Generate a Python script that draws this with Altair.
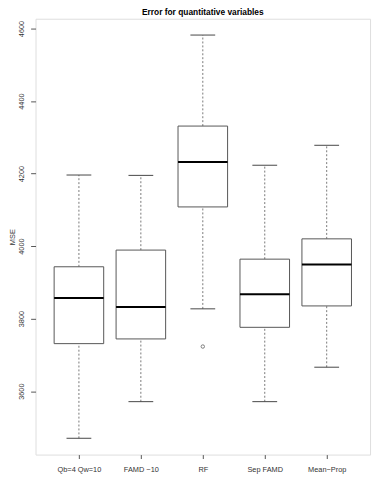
import altair as alt
import pandas as pd

methods = ["Qb=4 Qw=10", "FAMD \u221210", "RF", "Sep FAMD", "Mean\u2212Prop"]
positions = [1, 2, 3, 4, 5]
whisker_low = [3470, 3571, 3827, 3571, 3666]
q1 = [3731, 3744, 4108, 3776, 3835]
median = [3857, 3832, 4232, 3867, 3949]
q3 = [3943, 3989, 4331, 3964, 4020]
whisker_high = [4196, 4195, 4582, 4223, 4278]
outlier_pos = [3]
outlier_val = [3723]

y_ticks = [3600, 3800, 4000, 4200, 4400, 4600]

df = pd.DataFrame({
    "method": methods, "pos": positions, "lo": whisker_low, "q1": q1,
    "med": median, "q3": q3, "hi": whisker_high,
})
df_out = pd.DataFrame({"pos": outlier_pos, "val": outlier_val})

label_expr = "[" + ",".join(f"'{m}'" for m in methods) + "][datum.value - 1]"

FONT = "Liberation Sans"
xscale = alt.Scale(domain=[0.3, 5.7], nice=False, zero=False)
yscale = alt.Scale(domain=[3425, 4627], nice=False, zero=False)

xaxis = alt.Axis(values=positions, labelExpr=label_expr, title=None, grid=False,
                 domain=False, tickSize=4, tickColor="#555", labelPadding=7,
                 labelFontSize=7.5, labelFont=FONT, labelColor="#333")
yaxis = alt.Axis(values=y_ticks, format="d", title="MSE", grid=False, domain=False,
                 tickSize=5, tickColor="#555", labelAngle=270, labelAlign="center",
                 labelBaseline="bottom", labelPadding=5, labelFontSize=7.5,
                 labelFont=FONT, labelColor="#333", titleFont=FONT,
                 titleFontSize=7.5, titleFontWeight="normal", titleColor="#333",
                 titlePadding=1)

base = alt.Chart(df).transform_calculate(
    bl="datum.pos - 0.4", br="datum.pos + 0.4",
    cl="datum.pos - 0.2", cr="datum.pos + 0.2",
)

whisk_up = base.mark_rule(color="#777", strokeDash=[2, 2], strokeWidth=1).encode(
    x=alt.X("pos:Q", scale=xscale, axis=xaxis),
    y=alt.Y("q3:Q", scale=yscale, axis=yaxis),
    y2="hi:Q",
)
whisk_dn = base.mark_rule(color="#777", strokeDash=[2, 2], strokeWidth=1).encode(
    x="pos:Q", y="lo:Q", y2="q1:Q",
)
cap_up = base.mark_rule(color="#444", strokeWidth=1).encode(
    x="cl:Q", x2="cr:Q", y="hi:Q",
)
cap_dn = base.mark_rule(color="#444", strokeWidth=1).encode(
    x="cl:Q", x2="cr:Q", y="lo:Q",
)
box = base.mark_rect(fill="white", stroke="#555", strokeWidth=1).encode(
    x="bl:Q", x2="br:Q", y="q1:Q", y2="q3:Q",
)
med = base.mark_rule(color="#000", strokeWidth=2).encode(
    x="bl:Q", x2="br:Q", y="med:Q",
)
outl = alt.Chart(df_out).mark_point(shape="circle", filled=False, size=12,
                                     color="#444", strokeWidth=1).encode(
    x="pos:Q", y="val:Q",
)

chart = alt.layer(whisk_up, whisk_dn, cap_up, cap_dn, box, med, outl).properties(
    width=340, height=443,
    title=alt.TitleParams("Error for quantitative variables", fontSize=8.5,
                          font=FONT, fontWeight="bold", color="#000",
                          anchor="middle", offset=2),
    autosize=alt.AutoSizeParams(type="none"),
    padding={"left": 28, "top": 7, "right": 4, "bottom": 28},
).configure_view(stroke="#666", strokeWidth=1.3).configure(background="white")

chart.save("out.html", embed_options={"renderer": "svg", "actions": False})
